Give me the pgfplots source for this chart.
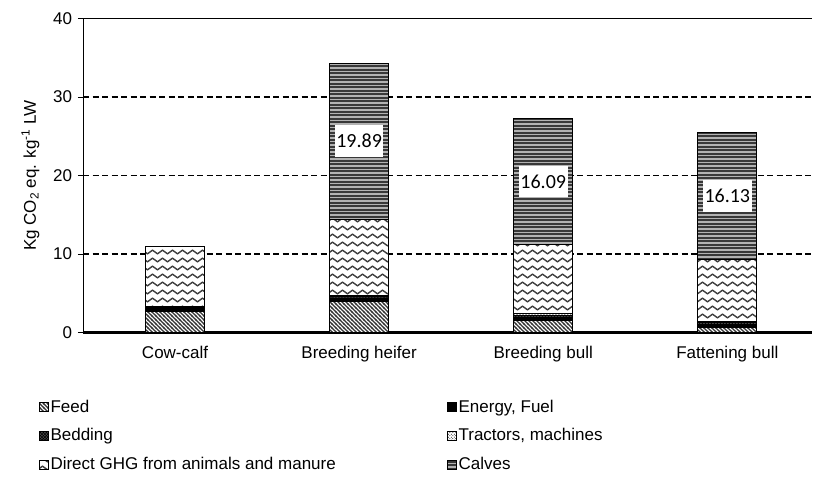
\documentclass[border=0pt]{standalone}
\usepackage{fontspec}
\setmainfont{Liberation Sans}
\newfontfamily\carlito{Carlito}
\usepackage{pgfplots}
\pgfplotsset{compat=1.18}
\usetikzlibrary{patterns,patterns.meta}

\pgfdeclarepatternformonly{wavy}{\pgfpoint{-1bp}{-1bp}}{\pgfpoint{11bp}{9bp}}{\pgfpoint{10bp}{8bp}}{
  \pgfsetlinewidth{1.4bp}
  \pgfpathmoveto{\pgfpoint{0bp}{4bp}}
  \pgfpathsine{\pgfpoint{2.5bp}{1.8bp}}
  \pgfpathcosine{\pgfpoint{2.5bp}{-1.8bp}}
  \pgfpathsine{\pgfpoint{2.5bp}{-1.8bp}}
  \pgfpathcosine{\pgfpoint{2.5bp}{1.8bp}}
  \pgfusepath{stroke}}
\pgfdeclarepatternformonly{nwlines}{\pgfpoint{-1bp}{-1bp}}{\pgfpoint{5bp}{5bp}}{\pgfpoint{4bp}{4bp}}{
  \pgfsetlinewidth{1.2bp}
  \pgfpathmoveto{\pgfpoint{-1bp}{5bp}}
  \pgfpathlineto{\pgfpoint{5bp}{-1bp}}
  \pgfusepath{stroke}}
\pgfdeclarepatternformonly{hlines}{\pgfpoint{-1bp}{0bp}}{\pgfpoint{5bp}{3.5bp}}{\pgfpoint{4bp}{3.5bp}}{
  \pgfsetlinewidth{1.7bp}
  \pgfpathmoveto{\pgfpoint{-1bp}{1.75bp}}
  \pgfpathlineto{\pgfpoint{5bp}{1.75bp}}
  \pgfusepath{stroke}}

\pgfplotstableread{
x feed energy bedding tractors direct calves
0 2.68 0.35 0.15 0.07 7.75 0
1 4.00 0.30 0.25 0.10 9.78 19.89
2 1.52 0.35 0.35 0.15 8.83 16.09
3 0.67 0.35 0.20 0.13 8.00 16.13
}\datatable

\pgfplotstableread{
x y label
1 24.38 19.89
2 19.25 16.09
3 17.42 16.13
}\labeltable

\begin{document}
\fontsize{17bp}{20bp}\selectfont
\begin{tikzpicture}
\begin{axis}[
  name=ax,
  scale only axis, width=729bp, height=314bp,
  ybar stacked, bar width=59bp,
  xmin=-0.5, xmax=3.46, ymin=0, ymax=40,
  xtick={0,1,2,3},
  xticklabels={Cow-calf, Breeding heifer, Breeding bull, Fattening bull},
  ytick={0,10,20,30}, extra y ticks={40},
  extra y tick style={grid style={solid, line width=1.1bp, draw=black}},
  ymajorgrids,
  grid style={dashed, dash pattern=on 6bp off 3.5bp, line width=1.1bp, draw=black},
  axis lines*=left,
  axis line style={-},
  x axis line style={line width=2.4bp},
  y axis line style={line width=1bp},
  xtick style={draw=none},
  ytick style={draw=black, line width=0.8bp},
  tick align=outside, major tick length=5bp,
  ticklabel style={font=\fontsize{17bp}{20bp}\selectfont},
  /pgf/number format/assume math mode=true,
  xticklabel style={yshift=-3bp},
  ylabel={Kg CO\textsubscript{2} eq. kg\textsuperscript{-1} LW},
  every axis y label/.style={at={(axis description cs:-0.072,0.5)}, rotate=90, anchor=center, font=\fontsize{17bp}{20bp}\selectfont},
  every axis plot/.append style={draw=black, line width=1bp},
  legend columns=2,
  legend cell align=left,
  legend style={draw=none, fill=none, inner sep=0pt, at={(axis description cs:-0.061,-0.207)}, anchor=north west,
    font=\fontsize{17bp}{20bp}\selectfont, row sep=10bp,
    /tikz/every even column/.append style={column sep=109bp}},
  legend image code/.code={\draw[#1, line width=0.8bp] (0bp,-4.5bp) rectangle (9bp,4.5bp);},
]
\addplot[fill=white, postaction={pattern=nwlines, pattern color=black!80}] table[x=x,y=feed]{\datatable};
\addlegendentry{Feed}
\addplot[fill=black] table[x=x,y=energy]{\datatable};
\addlegendentry{Energy, Fuel}
\addplot[fill=black!70, postaction={pattern=crosshatch, pattern color=black}] table[x=x,y=bedding]{\datatable};
\addlegendentry{Bedding}
\addplot[fill=white, postaction={pattern=crosshatch dots, pattern color=black}] table[x=x,y=tractors]{\datatable};
\addlegendentry{Tractors, machines}
\addplot[fill=white, postaction={pattern=wavy, pattern color=black!75}] table[x=x,y=direct]{\datatable};
\addlegendentry{Direct GHG from animals and manure}
\addplot[fill=black!30, postaction={pattern=hlines, pattern color=black!78}] table[x=x,y=calves]{\datatable};
\addlegendentry{Calves}
\end{axis}
\begin{axis}[
  scale only axis, width=729bp, height=314bp,
  xmin=-0.5, xmax=3.46, ymin=0, ymax=40,
  hide axis, clip=false,
]
\addplot[draw=none, mark=none, nodes near coords, point meta=explicit symbolic,
  nodes near coords align={center},
  every node near coord/.style={anchor=center, fill=white, inner xsep=1.5bp, inner ysep=9bp,
    font=\carlito\fontsize{20bp}{22bp}\selectfont}]
  table[x=x, y=y, meta=label]{\labeltable};
\end{axis}
\path (ax.south west) ++(-83bp,-155.5bp) rectangle ++(815bp,488bp);
\end{tikzpicture}
\end{document}
